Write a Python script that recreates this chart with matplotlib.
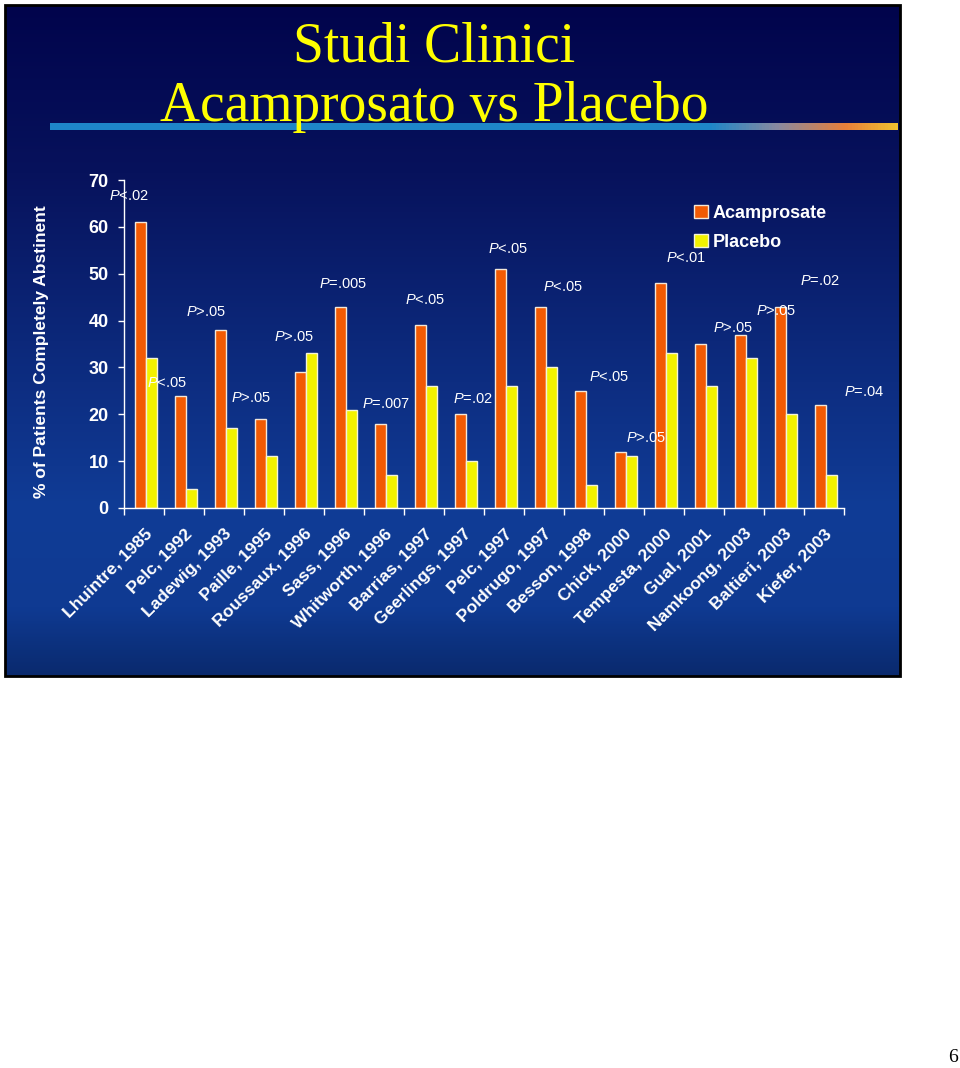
import numpy as np
import matplotlib
matplotlib.use("Agg")
import matplotlib.pyplot as plt
from matplotlib.colors import LinearSegmentedColormap
from matplotlib.patches import Patch, Rectangle
from matplotlib.transforms import ScaledTranslation

plt.rcParams['font.family'] = ['Liberation Sans', 'DejaVu Sans']
plt.rcParams['mathtext.fontset'] = 'custom'
plt.rcParams['mathtext.it'] = 'Liberation Sans:italic'
plt.rcParams['mathtext.rm'] = 'Liberation Sans'

studies = ['Lhuintre, 1985', 'Pelc, 1992', 'Ladewig, 1993', 'Paille, 1995',
           'Roussaux, 1996', 'Sass, 1996', 'Whitworth, 1996', 'Barrias, 1997',
           'Geerlings, 1997', 'Pelc, 1997', 'Poldrugo, 1997', 'Besson, 1998',
           'Chick, 2000', 'Tempesta, 2000', 'Gual, 2001', 'Namkoong, 2003',
           'Baltieri, 2003', 'Kiefer, 2003']
acamprosate = [61, 24, 38, 19, 29, 43, 18, 39, 20, 51, 43, 25, 12, 48, 35, 37, 43, 22]
placebo = [32, 4, 17, 11, 33, 21, 7, 26, 10, 26, 30, 5, 11, 33, 26, 32, 20, 7]
p_values = ['<.02', '<.05', '>.05', '>.05', '>.05', '=.005', '=.007', '<.05', '=.02',
            '<.05', '<.05', '<.05', '>.05', '<.01', '>.05', '>.05', '=.02', '=.04']
# where each p-value label sits (group units, y units)
p_x = [0.13, 1.08, 2.05, 3.18, 4.25, 5.48, 6.55, 7.53, 8.73,
       9.6, 10.98, 12.13, 13.05, 14.05, 15.23, 16.3, 17.4, 18.5]
p_y = [66.6, 26.7, 41.8, 23.5, 36.5, 47.8, 22.2, 44.4, 23.3,
       55.3, 47.2, 28.0, 14.9, 53.4, 38.4, 42.0, 48.4, 24.8]

W, H = 960, 1068
fig = plt.figure(figsize=(W / 100, H / 100), dpi=100, facecolor='white')

# slide background
bg = fig.add_axes([5 / W, 1 - 676 / H, 895 / W, 671 / H])
slide_cmap = LinearSegmentedColormap.from_list(
    'slide', [(0.0, '#01044c'), (0.25, '#07125c'), (0.5, '#0c287a'),
              (0.75, '#103c96'), (0.9, '#0f3a92'), (1.0, '#0a2a6e')])
grad = np.linspace(0, 1, 256).reshape(-1, 1)
bg.imshow(grad, aspect='auto', cmap=slide_cmap, extent=[0, 1, 0, 1], origin='upper')
bg.set_xlim(0, 1)
bg.set_ylim(0, 1)
bg.axis('off')
bg.add_patch(Rectangle((0, 0), 1, 1, fill=False, ec='black', lw=2,
                       transform=bg.transAxes, clip_on=False))

# title underline bar
bar_ax = fig.add_axes([50 / W, 1 - 130 / H, 847 / W, 7 / H])
bar_cmap = LinearSegmentedColormap.from_list(
    'bar', [(0.0, '#1e86c8'), (0.78, '#1e86c8'), (0.86, '#8a8aa0'),
            (0.94, '#e8803a'), (1.0, '#f0c030')])
bar_ax.imshow(np.linspace(0, 1, 256).reshape(1, -1), aspect='auto', cmap=bar_cmap,
              extent=[0, 1, 0, 1])
bar_ax.axis('off')

fig.text(434 / W, 1 - 61 / H, 'Studi Clinici', ha='center', va='baseline',
         fontsize=40, color='#ffff00', family='Liberation Serif')
fig.text(434 / W, 1 - 121 / H, 'Acamprosato vs Placebo', ha='center', va='baseline',
         fontsize=40, color='#ffff00', family='Liberation Serif')

# chart
ax = fig.add_axes([124 / W, 1 - 508 / H, 720 / W, 328 / H])
ax.set_facecolor('none')
x = np.arange(len(studies))
bw = 0.275
ax.bar(x + 0.55 - bw / 2, acamprosate, width=bw, color='#f25a03',
       edgecolor='#f4e8d8', linewidth=1.0, label='Acamprosate')
ax.bar(x + 0.55 + bw / 2, placebo, width=bw, color='#f2f200',
       edgecolor='#f4f4d8', linewidth=1.0, label='Placebo')

for lab, px, py in zip(p_values, p_x, p_y):
    ax.text(px, py, '$P$' + lab, ha='center', va='center', color='white',
            fontsize=10.5, clip_on=False)

ax.set_xlim(0, len(studies))
ax.set_ylim(0, 70)
for s in ['top', 'right']:
    ax.spines[s].set_visible(False)
for s in ['left', 'bottom']:
    ax.spines[s].set_color('white')
    ax.spines[s].set_linewidth(1)

ax.set_yticks(range(0, 71, 10))
ax.tick_params(axis='y', colors='white', length=4, width=1, labelsize=13, pad=7)
for t in ax.get_yticklabels():
    t.set_fontweight('bold')

ax.set_xticks(range(len(studies) + 1))
ax.set_xticklabels([])
ax.tick_params(axis='x', which='major', colors='white', length=5, width=1)
ax.set_xticks(x + 0.5, minor=True)
ax.set_xticklabels(studies, minor=True, rotation=45, ha='right', va='top',
                   rotation_mode='anchor', fontsize=12.5, fontweight='bold', color='white')
ax.tick_params(axis='x', which='minor', length=0, pad=13)
shift = ScaledTranslation(0, 0, fig.dpi_scale_trans)
for t in ax.get_xticklabels(minor=True):
    t.set_transform(t.get_transform() + shift)

fig.text(42 / W, 1 - 352 / H, '% of Patients Completely Abstinent', rotation=90,
         ha='center', va='center', color='white', fontsize=12.5, fontweight='bold')

handles = [Patch(facecolor='#f25a03', edgecolor='#f4e8d8'),
           Patch(facecolor='#f2f200', edgecolor='#f4f4d8')]
leg = ax.legend(handles, ['Acamprosate', 'Placebo'], loc='upper left',
                bbox_to_anchor=(694 / W, 1 - 205 / H), bbox_transform=fig.transFigure,
                frameon=False, prop={'weight': 'bold', 'size': 13},
                handlelength=0.75, handleheight=0.75, handletextpad=0.3,
                labelspacing=0.65, borderpad=0, borderaxespad=0)
for t in leg.get_texts():
    t.set_color('white')

fig.text(953 / W, 1 - 1057 / H, '6', ha='center', va='center', fontsize=14,
         family='Liberation Serif', color='black')

fig.savefig('out.png', dpi=100)
